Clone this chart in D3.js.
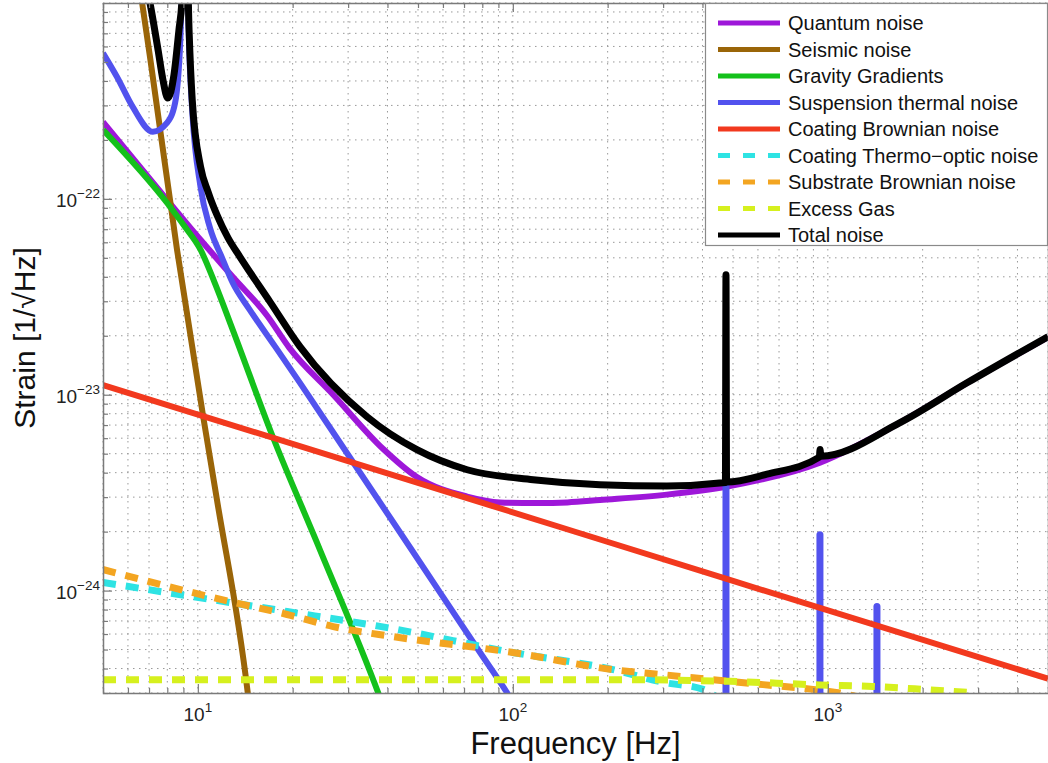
<!DOCTYPE html>
<html>
<head>
<meta charset="utf-8">
<script src="https://d3js.org/d3.v7.min.js"></script>
<style>
  html, body { margin: 0; padding: 0; background: #fff; }
  svg { display: block; font-family: "Liberation Sans", Arial, sans-serif; }
</style>
</head>
<body>
<div id="chart"></div>
<script>
// Axis ranges and labelled ticks
const freqDomain = [5, 5000];
const strainDomain = [3e-25, 1e-21];
const xTickValues = [10, 100, 1000];
const xTickExponents = ['1', '2', '3'];
const yTickValues = [1e-24, 1e-23, 1e-22];
const yTickExponents = ['\u221224', '\u221223', '\u221222'];

// Noise curves: [frequency (Hz), strain (1/sqrt(Hz))]
const quantumNoise = [
  [5, 2.47e-22], [7.98, 9.9e-23], [10.2, 6.18e-23], [12.9, 4.0e-23], [16.6, 2.53e-23],
  [19.5, 1.74e-23], [26.9, 1.0e-23], [38.7, 5.3e-24], [49.6, 3.8e-24], [71.6, 3.02e-24],
  [91, 2.82e-24], [120, 2.8e-24], [149, 2.82e-24], [189, 2.9e-24], [308, 3.09e-24],
  [479, 3.4e-24], [944, 4.5e-24], [1695, 7.2e-24], [2767, 1.15e-23], [5000, 1.97e-23]
];
const seismicNoise = [
  [6.5, 1.3e-21], [7.05, 5.3e-22], [8.59, 5.5e-23], [10.4, 7.73e-24], [11.5, 2.91e-24],
  [14.4, 3.02e-25], [14.6, 2.5e-25]
];
const gravityGradients = [
  [5, 2.25e-22], [7.98, 9.55e-23], [9.1, 7.2e-23], [10.2, 5.5e-23], [11.3, 3.75e-23],
  [12.9, 2.15e-23], [17.3, 6.1e-24], [24.4, 1.62e-24], [37.4, 3.0e-25], [39, 2.5e-25]
];
const suspensionThermal = [
  [5, 5.55e-22], [5.54, 4.19e-22], [6.22, 2.94e-22], [7.2, 2.2e-22], [7.98, 2.44e-22],
  [8.47, 3.09e-22], [8.8, 6.5e-22], [9.1, 5e-21], [9.4, 5.5e-22], [9.6, 2.8e-22],
  [10.2, 1.15e-22], [10.93, 7.11e-23], [11.94, 5.0e-23], [12.9, 3.73e-23], [14.6, 2.72e-23],
  [17.6, 1.76e-23], [21.1, 1.15e-23], [30.4, 4.78e-24], [47.2, 1.66e-24], [78.7, 4.83e-25],
  [96, 3.0e-25], [100, 2.7e-25]
];
// violin mode resonances of the suspension
const suspensionPeaks = [[475, 3.5e-24], [944, 1.93e-24], [1432, 8.3e-25]];
const coatingBrownian = [[5, 1.12e-23], [50, 3.55e-24], [500, 1.12e-24], [5000, 3.55e-25]];
const coatingThermoOptic = [
  [5, 1.1e-24], [12.6, 8.7e-25], [19.2, 7.82e-25], [39.9, 6.47e-25], [100, 4.83e-25],
  [208, 3.95e-25], [300, 3.4e-25], [402, 3.13e-25], [450, 2.8e-25]
];
const substrateBrownian = [
  [5, 1.28e-24], [12.6, 8.8e-25], [19.2, 7.55e-25], [26.9, 6.55e-25], [41.7, 5.82e-25],
  [100, 4.83e-25], [208, 3.95e-25], [300, 3.72e-25], [432, 3.51e-25], [623, 3.31e-25],
  [897, 3.13e-25], [1093, 3.0e-25], [1270, 2.85e-25]
];
const excessGas = [
  [5, 3.51e-25], [208, 3.51e-25], [489, 3.44e-25], [944, 3.3e-25], [1390, 3.24e-25],
  [2005, 3.13e-25], [2950, 3.0e-25]
];
const totalNoise = [
  [6.7, 1.5e-21], [7.05, 1.0e-21], [7.48, 5.75e-22], [7.75, 4.05e-22], [8.03, 3.27e-22],
  [8.4, 4.3e-22], [8.71, 7.28e-22], [8.91, 1.05e-21], [9.1, 5e-21], [9.38, 7.28e-22],
  [9.6, 3.2e-22], [10.2, 1.46e-22], [10.77, 1.09e-22], [11.5, 8.28e-23], [12.47, 6.32e-23],
  [13.6, 5.06e-23], [16.95, 2.98e-23], [21.1, 1.76e-23], [34.4, 7.73e-24], [49.6, 5.24e-24],
  [71.6, 4.14e-24], [116, 3.68e-24], [189, 3.47e-24], [308, 3.42e-24], [473, 3.56e-24],
  [475, 4.1e-23], [477, 3.58e-24], [641, 3.93e-24], [940, 4.8e-24], [945, 5.25e-24],
  [950, 4.85e-24], [1695, 7.2e-24], [2767, 1.15e-23], [5000, 1.98e-23]
];

const series = [
  { name: 'Quantum noise', data: quantumNoise, color: '#9e17d9' },
  { name: 'Seismic noise', data: seismicNoise, color: '#9a6508' },
  { name: 'Gravity Gradients', data: gravityGradients, color: '#14c11b' },
  { name: 'Suspension thermal noise', data: suspensionThermal, color: '#5252ee', peaks: suspensionPeaks },
  { name: 'Coating Brownian noise', data: coatingBrownian, color: '#f2391e' },
  { name: 'Coating Thermo\u2212optic noise', data: coatingThermoOptic, color: '#2ee3e3', dashed: true },
  { name: 'Substrate Brownian noise', data: substrateBrownian, color: '#f3a521', dashed: true },
  { name: 'Excess Gas', data: excessGas, color: '#d6f01e', dashed: true },
  { name: 'Total noise', data: totalNoise, color: '#000000', width: 7 }
];

const width = 1048;
const height = 763;
const plot = { left: 103, top: 3, right: 1048, bottom: 693 };
const frameColor = '#7a7a7a';

const svg = d3.select('#chart')
  .append('svg')
  .attr('width', width)
  .attr('height', height)
  .attr('viewBox', `0 0 ${width} ${height}`);

svg.append('rect').attr('width', width).attr('height', height).attr('fill', '#fff');

const x = d3.scaleLog().domain(freqDomain).range([plot.left, plot.right]);
const y = d3.scaleLog().domain(strainDomain).range([plot.bottom, plot.top]);

const isDecade = d => Math.abs(Math.log10(d) - Math.round(Math.log10(d))) < 1e-6;
const xMinor = x.ticks().filter(d => !isDecade(d));
const yMinor = y.ticks().filter(d => !isDecade(d));

// Dotted grid on every log tick (matlab style)
const grid = svg.append('g')
  .attr('stroke', '#999')
  .attr('stroke-width', 1)
  .attr('stroke-dasharray', '1.5,4.5');

grid.selectAll('.grid-x')
  .data(x.ticks())
  .join('line')
  .attr('class', 'grid-x')
  .attr('x1', d => x(d)).attr('x2', d => x(d))
  .attr('y1', plot.top).attr('y2', plot.bottom);

grid.selectAll('.grid-y')
  .data(y.ticks())
  .join('line')
  .attr('class', 'grid-y')
  .attr('x1', plot.left).attr('x2', plot.right)
  .attr('y1', d => y(d)).attr('y2', d => y(d));

// Curves, clipped to the axes box
svg.append('defs').append('clipPath')
  .attr('id', 'plot-clip')
  .append('rect')
  .attr('x', plot.left).attr('y', plot.top)
  .attr('width', plot.right - plot.left).attr('height', plot.bottom - plot.top);

const line = d3.line()
  .x(d => x(d[0]))
  .y(d => y(d[1]))
  .curve(d3.curveMonotoneX);

const curves = svg.append('g').attr('clip-path', 'url(#plot-clip)');

series.forEach(s => {
  curves.append('path')
    .datum(s.data)
    .attr('d', line)
    .attr('fill', 'none')
    .attr('stroke', s.color)
    .attr('stroke-width', s.width || (s.dashed ? 7 : 6))
    .attr('stroke-dasharray', s.dashed ? '13,10' : null)
    .attr('stroke-linejoin', 'round');

  if (s.peaks) {
    curves.selectAll(null)
      .data(s.peaks)
      .join('line')
      .attr('x1', d => x(d[0])).attr('x2', d => x(d[0]))
      .attr('y1', plot.bottom + 5).attr('y2', d => y(d[1]))
      .attr('stroke', s.color)
      .attr('stroke-width', 7)
      .attr('stroke-linecap', 'round');
  }
});

// Axes frame and inward ticks
svg.append('rect')
  .attr('x', plot.left + 0.5).attr('y', plot.top + 0.5)
  .attr('width', plot.right - plot.left).attr('height', plot.bottom - plot.top)
  .attr('fill', 'none')
  .attr('stroke', frameColor)
  .attr('stroke-width', 1.5);

function addTicks(axis, transform) {
  svg.append('g')
    .attr('transform', transform)
    .call(axis)
    .call(g => g.select('.domain').remove())
    .call(g => g.selectAll('line').attr('stroke', frameColor).attr('stroke-width', 1.2));
}

addTicks(d3.axisBottom(x).tickValues(xMinor).tickSize(-5).tickFormat(''), `translate(0,${plot.bottom})`);
addTicks(d3.axisBottom(x).tickValues(xTickValues).tickSize(-9).tickFormat(''), `translate(0,${plot.bottom})`);
addTicks(d3.axisTop(x).tickValues(xMinor).tickSize(-5).tickFormat(''), `translate(0,${plot.top})`);
addTicks(d3.axisTop(x).tickValues(xTickValues).tickSize(-9).tickFormat(''), `translate(0,${plot.top})`);
addTicks(d3.axisLeft(y).tickValues(yMinor).tickSize(-5).tickFormat(''), `translate(${plot.left},0)`);
addTicks(d3.axisLeft(y).tickValues(yTickValues).tickSize(-9).tickFormat(''), `translate(${plot.left},0)`);

// Tick labels with superscript exponents
const xLabels = svg.append('g')
  .selectAll('text')
  .data(xTickValues)
  .join('text')
  .attr('x', d => x(d))
  .attr('y', plot.bottom + 28)
  .attr('text-anchor', 'middle')
  .attr('font-size', 19)
  .attr('fill', '#222');
xLabels.append('tspan').text('10');
xLabels.append('tspan').attr('dy', -9).attr('font-size', 13.5).text((d, i) => xTickExponents[i]);

const yLabels = svg.append('g')
  .selectAll('text')
  .data(yTickValues)
  .join('text')
  .attr('x', plot.left - 3)
  .attr('y', d => y(d) + 8)
  .attr('text-anchor', 'end')
  .attr('font-size', 19)
  .attr('fill', '#222');
yLabels.append('tspan').text('10');
yLabels.append('tspan').attr('dy', -9).attr('font-size', 13.5).text((d, i) => yTickExponents[i]);

// Axis titles
svg.append('text')
  .attr('x', (plot.left + plot.right) / 2)
  .attr('y', 754)
  .attr('text-anchor', 'middle')
  .attr('font-size', 31)
  .attr('fill', '#111')
  .text('Frequency [Hz]');

svg.append('text')
  .attr('transform', `translate(35,${(plot.top + plot.bottom) / 2 - 10}) rotate(-90)`)
  .attr('text-anchor', 'middle')
  .attr('font-size', 30)
  .attr('fill', '#111')
  .text('Strain [1/\u221AHz]');

// Legend
const legend = svg.append('g');
legend.append('rect')
  .attr('x', 705.5).attr('y', 3.5)
  .attr('width', 342).attr('height', 242)
  .attr('fill', '#fff')
  .attr('stroke', '#8a8a8a')
  .attr('stroke-width', 1.2);

series.forEach((s, i) => {
  const cy = 23 + i * 26.5;
  legend.append('line')
    .attr('x1', 718).attr('x2', 780)
    .attr('y1', cy).attr('y2', cy)
    .attr('stroke', s.color)
    .attr('stroke-width', 5)
    .attr('stroke-dasharray', s.dashed ? '12,13' : null);
  legend.append('text')
    .attr('x', 788)
    .attr('y', cy + 7)
    .attr('font-size', 20)
    .attr('fill', '#111')
    .text(s.name);
});
</script>
</body>
</html>
